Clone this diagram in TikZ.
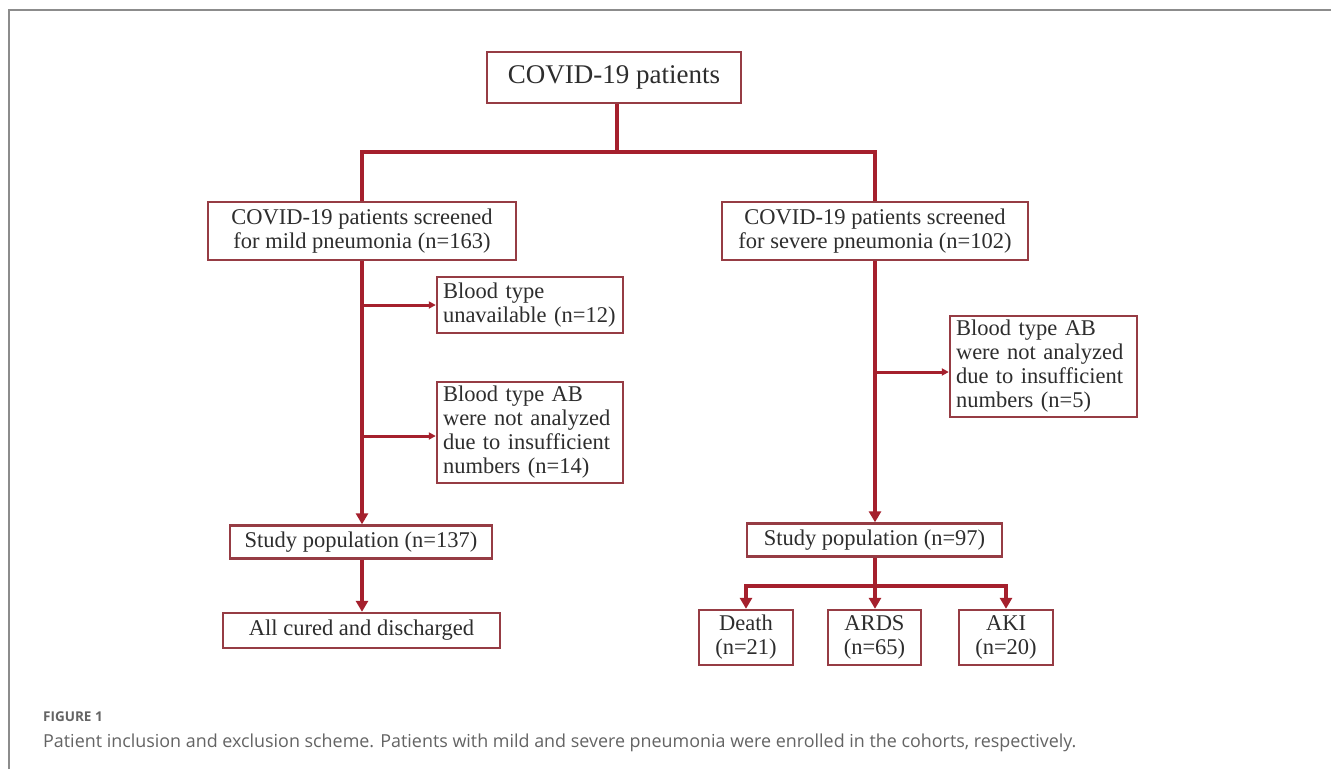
\documentclass[tikz,border=0pt]{standalone}
\usepackage{fontspec}
\setmainfont{Liberation Serif}
\newfontfamily\capfont{Open Sans}
\usetikzlibrary{arrows.meta}
\definecolor{linered}{RGB}{165,32,45}
\definecolor{boxred}{RGB}{150,60,68}
\definecolor{txt}{RGB}{45,45,45}
\definecolor{framegray}{RGB}{140,140,140}
\definecolor{capgray}{RGB}{100,100,100}
\begin{document}
\begin{tikzpicture}[x=1pt,y=-1pt,
  box/.style={draw=boxred,line width=2.4pt,fill=white,text=txt,inner sep=0pt,align=center,
    font=\fontsize{22.5}{24}\selectfont},
  exbox/.style={box,align=left,inner xsep=6pt},
  conn/.style={draw=linered,line width=3.4pt},
  arr/.style={conn,-{Triangle[length=11pt,width=12pt]}},
  sarr/.style={conn,line width=3pt,-{Triangle[length=7pt,width=7pt]}}]
\useasboundingbox (0,0) rectangle (1331,769);
\fill[white] (0,0) rectangle (1331,769);
% frame
\draw[framegray,line width=1.4pt] (9,769) -- (9,10) -- (1331,10);
% nodes
\node[box,minimum width=254pt,minimum height=51pt,font=\fontsize{27}{30}\selectfont] (top) at (614,77.5) {COVID-19 patients};
\node[box,minimum width=308pt,minimum height=58pt] (mild) at (362,231) {COVID-19 patients screened\\for mild pneumonia (n=163)};
\node[box,minimum width=306pt,minimum height=58pt] (severe) at (875,231) {COVID-19 patients screened\\for severe pneumonia (n=102)};
\node[exbox,text width=174pt,minimum height=56pt] (ex1) at (530,305) {Blood type\\unavailable (n=12)};
\node[exbox,text width=174pt,minimum height=101pt] (ex2) at (530,432.5) {Blood type AB\\were not analyzed\\due to insufficient\\numbers (n=14)};
\node[exbox,text width=175pt,minimum height=101pt] (ex3) at (1043.5,366.5) {Blood type AB\\were not analyzed\\due to insufficient\\numbers (n=5)};
\node[box,minimum width=262pt,minimum height=33pt] (s137) at (361,542) {Study population (n=137)};
\node[box,minimum width=277pt,minimum height=35pt] (cured) at (361.5,630.5) {All cured and discharged};
\node[box,minimum width=255pt,minimum height=33pt] (s97) at (874.5,540) {Study population (n=97)};
\node[box,minimum width=94pt,minimum height=55pt] (death) at (746,637.5) {Death\\(n=21)};
\node[box,minimum width=93pt,minimum height=55pt] (ards) at (874.5,637.5) {ARDS\\(n=65)};
\node[box,minimum width=94pt,minimum height=55pt] (aki) at (1006,637.5) {AKI\\(n=20)};
% coordinates
\coordinate (split) at (617,152);
\coordinate (sl) at (362,152);
\coordinate (sr) at (875,152);
\coordinate (b1) at (362,305);
\coordinate (b2) at (362,436);
\coordinate (b3) at (875,372);
\coordinate (bot) at (875,586);
\coordinate (bl) at (746,586);
\coordinate (br) at (1006,586);
% connectors
\draw[conn] (top.south -| split) -- (split);
\draw[conn,line cap=rect] (sl) -- (sr);
\draw[conn] (sl) -- (mild.north -| sl);
\draw[conn] (sr) -- (severe.north -| sr);
\draw[arr] (mild.south -| b1) -- (s137.north -| b1);
\draw[sarr] (b1) -- (ex1.west |- b1);
\draw[sarr] (b2) -- (ex2.west |- b2);
\draw[arr] (severe.south -| b3) -- (s97.north -| b3);
\draw[sarr] (b3) -- (ex3.west |- b3);
\draw[arr] (s137.south -| b1) -- (cured.north -| b1);
\draw[conn] (s97.south -| bot) -- (bot);
\draw[conn,line cap=rect] (bl) -- (br);
\draw[arr] (bot) -- (ards.north -| bot);
\draw[arr] (bl) -- (death.north);
\draw[arr] (br) -- (aki.north);
% caption
\node[anchor=base west,inner sep=0pt,text=capgray,font=\capfont\bfseries\fontsize{13.5}{15}\selectfont] (figlab) at (43,721) {FIGURE 1};
\node[anchor=base west,inner sep=0pt,text=capgray,font=\capfont\fontsize{17.9}{20}\selectfont] (cap) at (43,747) {Patient inclusion and exclusion scheme. Patients with mild and severe pneumonia were enrolled in the cohorts, respectively.};
\end{tikzpicture}
\end{document}
